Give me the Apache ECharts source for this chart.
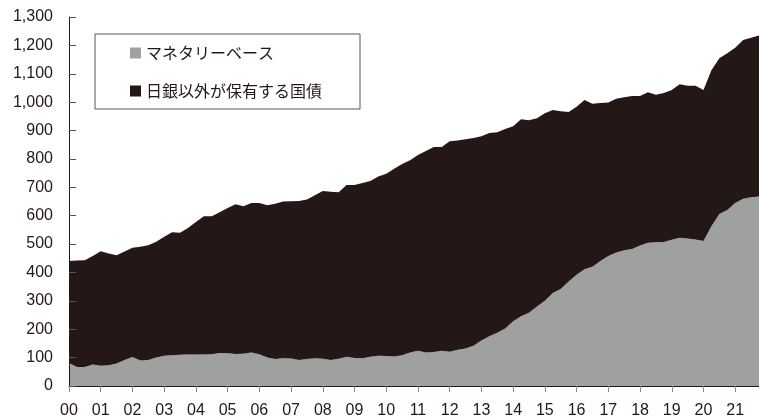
<!DOCTYPE html>
<html>
<head>
<meta charset="utf-8">
<script src="https://cdn.jsdelivr.net/npm/echarts@6/dist/echarts.min.js"></script>
<style>
  html, body { margin: 0; padding: 0; background: #fff; }
  #chart { width: 759px; height: 419px; }
</style>
</head>
<body>
<div id="chart"></div>
<script>
// Quarterly, 2000 Q1 – 2021 Q4 (units: trillion yen)
const years = ['00','01','02','03','04','05','06','07','08','09','10',
               '11','12','13','14','15','16','17','18','19','20','21'];
const quarters = ['Q1','Q2','Q3','Q4'];

// マネタリーベース
const monetaryBase = [
  81, 67, 67, 76, 71, 73, 79, 92, 102, 90, 92, 100,
  107, 108, 110, 111, 111, 111, 112, 116, 115, 113, 114, 118,
  112, 100, 95, 98, 97, 92, 95, 98, 96, 92, 96, 103,
  99, 98, 103, 107, 106, 104, 108, 118, 124, 118, 120, 124,
  121, 128, 132, 142, 160, 175, 188, 203, 228, 246, 258, 280,
  300, 328, 342, 368, 392, 411, 420, 440, 458, 470, 478, 483,
  495, 505, 506, 507, 515, 522, 520, 516, 511, 563, 606, 620,
  645, 660, 665, 668
];

// 日銀以外が保有する国債
const jgbOutsideBoj = [
  359, 375, 376, 382, 404, 394, 382, 382, 385, 401, 404, 408,
  419, 434, 430, 446, 467, 487, 486, 496, 512, 527, 519, 527,
  533, 537, 547, 552, 554, 560, 562, 574, 591, 592, 587, 605,
  609, 617, 619, 631, 642, 661, 674, 677, 690, 710, 722, 718,
  741, 737, 737, 732, 720, 716, 706, 702, 687, 694, 678, 663,
  661, 644, 626, 597, 592, 597, 574, 557, 541, 542, 539, 539,
  527, 530, 520, 525, 528, 541, 538, 542, 532, 549, 549, 552,
  547, 559, 562, 567
];

const seriesNames = ['マネタリーベース', '日銀以外が保有する国債'];
const colors = ['#9fa0a0', '#231815'];

const categories = [];
years.forEach(y => quarters.forEach(q => categories.push(y + q)));

const ink = '#231815';
const chart = echarts.init(document.getElementById('chart'), null, { renderer: 'canvas' });

chart.setOption({
  animation: false,
  backgroundColor: '#fff',
  textStyle: { fontFamily: 'Liberation Sans, Arial, sans-serif' },
  grid: { left: 69, right: -4, top: 17, bottom: 32 },
  legend: {
    left: 95,
    top: 34,
    orient: 'vertical',
    data: seriesNames,
    icon: 'rect',
    itemWidth: 11,
    itemHeight: 11,
    itemGap: 18,
    padding: [9, 38, 8, 35],
    borderColor: '#595757',
    borderWidth: 1,
    backgroundColor: '#fff',
    textStyle: {
      fontFamily: '"Noto Sans CJK JP", sans-serif',
      fontSize: 16,
      lineHeight: 20,
      color: ink
    }
  },
  xAxis: {
    type: 'category',
    data: categories,
    boundaryGap: false,
    z: 10,
    axisLine: { lineStyle: { color: ink, width: 1 } },
    axisTick: {
      interval: (i) => i % 4 === 0,
      length: 6,
      lineStyle: { color: '#888' }
    },
    axisLabel: {
      interval: (i) => i % 4 === 0,
      formatter: (v) => v.slice(0, 2),
      margin: 17,
      fontSize: 16,
      color: ink
    },
    splitLine: { show: false }
  },
  yAxis: {
    type: 'value',
    min: 0,
    max: 1300,
    interval: 100,
    z: 10,
    axisLine: { show: true, lineStyle: { color: ink, width: 1 } },
    axisTick: { show: true, inside: true, length: 7, lineStyle: { color: '#555' } },
    axisLabel: {
      margin: 16,
      fontSize: 16,
      color: ink,
      formatter: (v) => v.toLocaleString('en-US')
    },
    splitLine: { show: false }
  },
  series: [
    {
      name: seriesNames[0],
      type: 'line',
      stack: 'total',
      data: monetaryBase,
      symbol: 'none',
      lineStyle: { width: 0 },
      itemStyle: { color: colors[0] },
      areaStyle: { color: colors[0], opacity: 1 }
    },
    {
      name: seriesNames[1],
      type: 'line',
      stack: 'total',
      data: jgbOutsideBoj,
      symbol: 'none',
      lineStyle: { width: 0 },
      itemStyle: { color: colors[1] },
      areaStyle: { color: colors[1], opacity: 1 }
    }
  ]
});
</script>
</body>
</html>
